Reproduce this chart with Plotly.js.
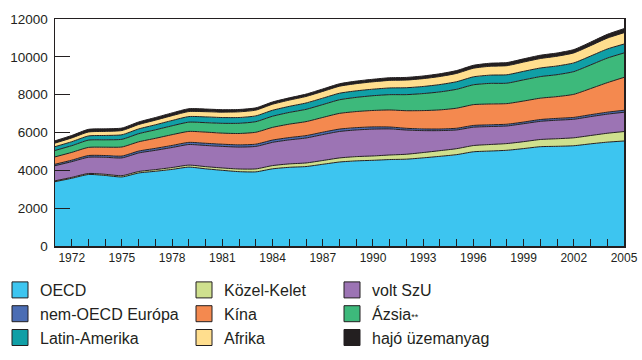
<!DOCTYPE html>
<html>
<head>
<meta charset="utf-8">
<script src="https://cdn.plot.ly/plotly-3.0.1.min.js"></script>
<style>html,body{margin:0;padding:0;background:#fff;}#chart{width:642px;height:360px;}</style>
</head>
<body>
<div id="chart"></div>
<script>
const years = [];
for (let y = 1971; y <= 2005; y++) years.push(y);

const oecd        = [3400,3580,3780,3730,3650,3860,3950,4050,4170,4080,4000,3930,3920,4080,4160,4200,4320,4440,4500,4530,4570,4590,4660,4740,4830,4980,5020,5060,5150,5250,5270,5300,5400,5490,5550];
const kozelKelet  = [45,48,52,60,68,78,88,98,105,115,125,140,155,170,180,190,200,215,225,230,240,260,280,300,315,330,345,355,365,380,400,420,440,470,500];
const voltSzU     = [800,830,860,900,940,980,1020,1060,1090,1120,1140,1160,1190,1230,1270,1320,1370,1400,1410,1420,1380,1280,1160,1060,990,970,950,930,950,960,980,980,1000,1010,1020];
const nemOecdEur  = [75,80,90,93,97,100,104,108,112,115,116,117,118,120,122,124,126,126,122,115,100,92,88,85,90,92,92,92,88,95,97,98,100,103,105];
const kina        = [390,410,430,440,480,490,530,570,580,590,585,600,630,670,710,740,780,830,850,870,900,930,970,1010,1060,1100,1100,1090,1110,1130,1150,1220,1380,1560,1740];
const azsia       = [340,355,385,390,405,430,450,470,490,500,520,540,560,590,620,650,680,720,750,780,810,850,900,950,1000,1050,1090,1080,1120,1140,1160,1200,1250,1300,1290];
const latinAm     = [200,210,220,230,240,250,265,280,295,305,305,305,305,315,320,335,340,345,345,345,355,365,375,390,400,420,435,445,450,455,460,460,470,480,470];
const afrika      = [190,200,210,215,225,235,245,255,265,275,285,300,305,320,330,345,355,370,380,390,400,405,415,425,440,455,470,480,490,500,515,530,550,575,600];
const hajo        = [120,130,140,135,130,135,140,145,150,140,130,125,120,120,120,125,130,130,135,135,140,140,140,145,150,155,160,165,170,175,170,175,185,200,215];

const tickYears = [1972,1975,1978,1981,1984,1987,1990,1993,1996,1999,2002,2005];

const series = [
  {name:'OECD', data:oecd, color:'#3DC5F0', legend:'legend'},
  {name:'Közel-Kelet', data:kozelKelet, color:'#CFE08E', legend:'legend2'},
  {name:'volt SzU', data:voltSzU, color:'#9C74B4', legend:'legend3'},
  {name:'nem-OECD Európa', data:nemOecdEur, color:'#4B6DB4', legend:'legend'},
  {name:'Kína', data:kina, color:'#F4894F', legend:'legend2'},
  {name:'Ázsia<span style="font-size:9px">**</span>', data:azsia, color:'#3DB97B', legend:'legend3'},
  {name:'Latin-Amerika', data:latinAm, color:'#109FA6', legend:'legend'},
  {name:'Afrika', data:afrika, color:'#FFDE8E', legend:'legend2'},
  {name:'hajó üzemanyag', data:hajo, color:'#231F20', legend:'legend3'}
];

const traces = [];
series.forEach(s => {
  traces.push({
    x: years, y: s.data, type:'scatter', mode:'lines', stackgroup:'one',
    fillcolor: s.color, line:{color:'#231F20', width:1, shape:'spline', smoothing:0.6},
    showlegend:false, hoverinfo:'skip'
  });
});
series.forEach(s => {
  traces.push({
    x:[null], y:[null], type:'scatter', mode:'markers', name:s.name, legend:s.legend,
    marker:{symbol:'square', size:16, color:s.color, line:{color:'#231F20', width:1}},
    showlegend:true, hoverinfo:'skip'
  });
});

const legendBase = {
  orientation:'v', xref:'container', yref:'container', yanchor:'top', xanchor:'left',
  font:{family:'Liberation Sans, Arial, sans-serif', size:16, color:'#231F20'},
  bgcolor:'rgba(0,0,0,0)', itemclick:false, tracegroupgap:0, traceorder:'normal'
};

const layout = {
  width:642, height:360,
  margin:{l:55, r:18, t:19, b:114, autoexpand:false},
  paper_bgcolor:'#fff', plot_bgcolor:'#fff',
  font:{family:'Liberation Sans, Arial, sans-serif', color:'#231F20'},
  xaxis:{
    type:'linear', range:[1971,2005], tickvals:tickYears, ticktext:tickYears.map(String),
    ticks:'inside', ticklen:7, tickcolor:'#231F20', tickwidth:1,
    minor:{dtick:1, tick0:1971, ticks:'inside', ticklen:7, tickcolor:'#231F20', tickwidth:1},
    showline:true, mirror:true, linecolor:'#231F20', linewidth:1.5,
    showgrid:false, zeroline:false, automargin:false,
    tickfont:{size:12, color:'#231F20'}
  },
  yaxis:{
    type:'linear', range:[0,12000], dtick:2000, tickformat:'d', ticks:'inside', ticklen:15, tickcolor:'#231F20', tickwidth:1,
    showline:true, mirror:true, linecolor:'#231F20', linewidth:1.5,
    showgrid:false, zeroline:false, ticklabelstandoff:3, automargin:false,
    tickfont:{size:13.5, color:'#231F20'}
  },
  legend: Object.assign({}, legendBase, {x:0.0, y:1-273/360}),
  legend2: Object.assign({}, legendBase, {x:184/642, y:1-273/360}),
  legend3: Object.assign({}, legendBase, {x:332/642, y:1-273/360}),
  showlegend:true
};

Plotly.newPlot('chart', traces, layout, {displayModeBar:false, staticPlot:true});
</script>
</body>
</html>
